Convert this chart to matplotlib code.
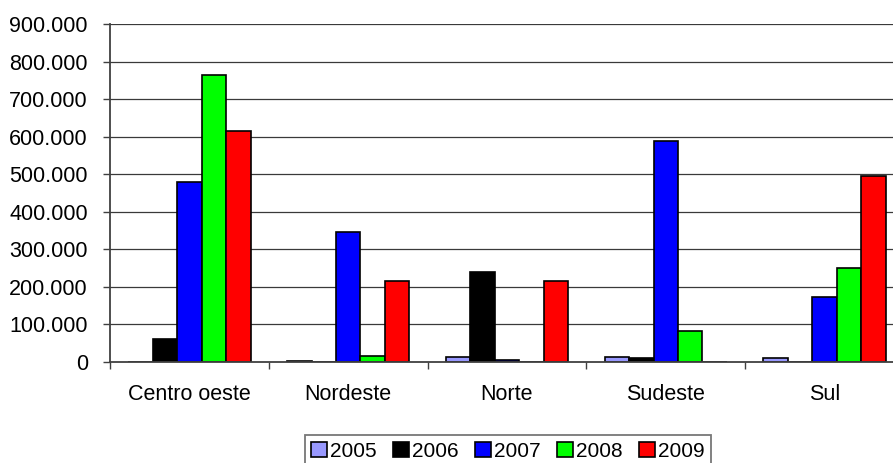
import matplotlib
matplotlib.use("Agg")
import matplotlib.pyplot as plt
from matplotlib.ticker import FuncFormatter, FixedLocator
import numpy as np

plt.rcParams['font.family'] = ['Liberation Sans', 'DejaVu Sans']

# Regions and yearly totals
regions = ["Centro oeste", "Nordeste", "Norte", "Sudeste", "Sul"]
years = ["2005", "2006", "2007", "2008", "2009"]
v2005 = [0, 2000, 12000, 14000, 11000]
v2006 = [61000, 0, 240000, 11000, 0]
v2007 = [479000, 347000, 6000, 589000, 173000]
v2008 = [763000, 17000, 0, 83000, 251000]
v2009 = [615000, 217000, 217000, 0, 495000]
series = [v2005, v2006, v2007, v2008, v2009]
colors = ["#9999FF", "#000000", "#0000FF", "#00FF00", "#FF0000"]
y_ticks = [0, 100000, 200000, 300000, 400000, 500000, 600000, 700000, 800000, 900000]

W, H = 893, 463
fig = plt.figure(figsize=(W / 100, H / 100), dpi=100)
left, right, bottom, top = 110, 904, 362, 24
ax = fig.add_axes([left / W, (H - bottom) / H, (right - left) / W, (bottom - top) / H])

x = np.arange(len(regions))
bw = 0.154
handles = []
for i, (vals, col, yr) in enumerate(zip(series, colors, years)):
    b = ax.bar(x + (i - 2) * bw, vals, width=bw, color=col, edgecolor="black",
               linewidth=1.2, label=yr, zorder=3)
    handles.append(b)

ax.set_xlim(-0.5, len(regions) - 0.5)
ax.set_ylim(0, 900000)

# grid
for yv in y_ticks[1:]:
    ax.axhline(yv, color="#3a3a3a", linewidth=0.9, zorder=1)

ax.set_yticks(y_ticks)
ax.yaxis.set_major_formatter(FuncFormatter(lambda v, p: f"{int(v):,}".replace(",", ".")))
ax.tick_params(axis="y", length=5, width=1, color="#404040", pad=11, labelsize=15.5)

ax.set_xticks(x)
ax.set_xticklabels(regions)
ax.xaxis.set_minor_locator(FixedLocator(np.arange(-0.5, len(regions), 1.0)))
ax.tick_params(axis="x", which="major", length=0, pad=16, labelsize=15.5)
ax.tick_params(axis="x", which="minor", length=5, width=1, color="#404040")

for s in ["top", "right"]:
    ax.spines[s].set_visible(False)
for s in ["left", "bottom"]:
    ax.spines[s].set_color("#404040")
    ax.spines[s].set_linewidth(1.3)
    ax.spines[s].set_zorder(4)

leg = fig.legend(handles=handles, labels=years, loc="upper center",
                 bbox_to_anchor=(508 / W, (H - 425) / H), ncol=5, frameon=True,
                 fontsize=15, handlelength=0.75, handleheight=0.75, handletextpad=0.15,
                 columnspacing=0.8, borderpad=0.3, fancybox=False, edgecolor="#555555")
leg.get_frame().set_linewidth(1.3)

fig.savefig("out.png", dpi=100)
